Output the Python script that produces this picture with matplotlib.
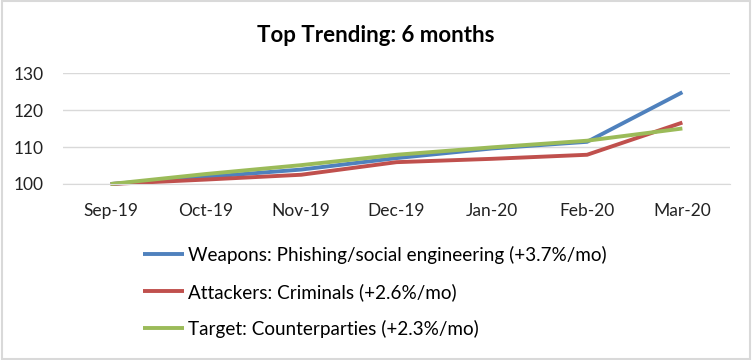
import matplotlib
matplotlib.use("Agg")
import matplotlib.pyplot as plt
from matplotlib.patches import Rectangle

plt.rcParams['font.family'] = ['Lato', 'DejaVu Sans']

months = ["Sep-19", "Oct-19", "Nov-19", "Dec-19", "Jan-20", "Feb-20", "Mar-20"]
weapons = [100, 101.9, 103.9, 107.0, 109.6, 111.4, 124.8]
attackers = [100, 101.2, 102.5, 105.9, 106.8, 107.9, 116.6]
targets = [100, 102.7, 105.1, 107.9, 109.9, 111.7, 115.0]

labels = [
    "Weapons: Phishing/social engineering (+3.7%/mo)",
    "Attackers: Criminals (+2.6%/mo)",
    "Target: Counterparties (+2.3%/mo)",
]
colors = ["#4F81BD", "#C0504D", "#9BBB59"]

fig = plt.figure(figsize=(7.52, 3.6), dpi=100)
ax = fig.add_axes([63/752, 1-184/360, 667/752, 111/360])

x = range(len(months))
for vals, lab, c in zip([weapons, attackers, targets], labels, colors):
    ax.plot(x, vals, color=c, linewidth=2.8, label=lab, clip_on=False,
            solid_capstyle='butt')

ax.set_xlim(-0.5, 6.5)
ax.set_ylim(100, 130)
ax.set_yticks([100, 110, 120, 130])
ax.set_xticks(list(x))
ax.set_xticklabels(months)
ax.grid(axis='y', color='#d9d9d9', linewidth=1)
ax.set_axisbelow(True)
for s in ["top", "right", "left"]:
    ax.spines[s].set_visible(False)
ax.spines["bottom"].set_color('#d9d9d9')
ax.tick_params(length=0, labelsize=12.5, colors='#222222')
ax.tick_params(axis='y', pad=14)
ax.tick_params(axis='x', pad=14)

fig.text(0.5, 1-35/360, "Top Trending: 6 months", ha='center', va='center',
         fontsize=16, fontweight='bold')

fig.legend(loc='upper left', bbox_to_anchor=(126/752, 1-229/360), frameon=False,
           fontsize=13.6, handlelength=2.15, handletextpad=0.25, labelspacing=1.0)

fig.patches.append(Rectangle((0.002, 0.003), 0.996, 0.994, transform=fig.transFigure,
                             fill=False, edgecolor='#d9d9d9', linewidth=1.5))

fig.savefig("out.png", dpi=100)
